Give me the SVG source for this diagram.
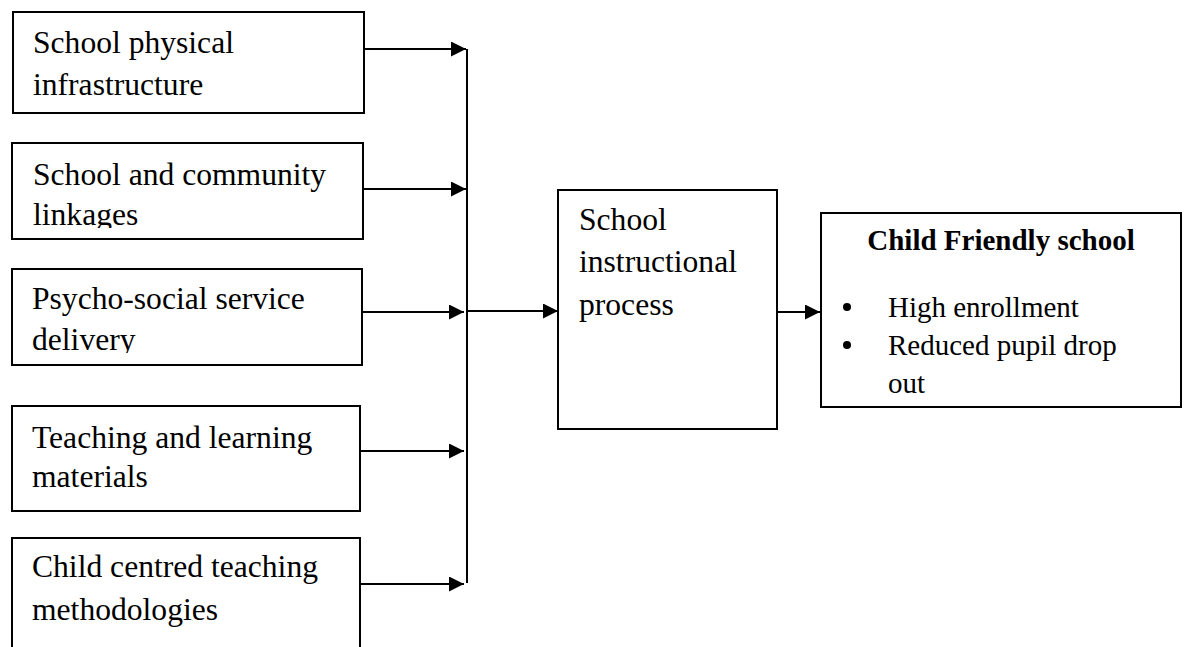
<svg xmlns="http://www.w3.org/2000/svg" width="1188" height="647" viewBox="0 0 1188 647">
<style>
.box{fill:#fff;stroke:#000;stroke-width:2}
.t{font-family:"Liberation Serif","Times New Roman",serif;font-size:31.6px;fill:#000}
.r{font-family:"Liberation Serif","Times New Roman",serif;font-size:29px;fill:#000}
.b{font-weight:bold}
.c{stroke:#000;stroke-width:2;fill:none}
</style>
<defs>
<marker id="ah" markerUnits="userSpaceOnUse" markerWidth="16" markerHeight="16" refX="15" refY="7.5" orient="auto">
<path d="M0,0 L15,7.5 L0,15 z" fill="#000"/>
</marker>
<clipPath id="clip2"><rect x="12" y="143" width="352" height="85"/></clipPath>
<clipPath id="clip3"><rect x="12" y="269" width="352" height="84"/></clipPath>
</defs>
<rect width="1188" height="647" fill="#fff"/>
<g id="connectors">
<line class="c" x1="362" y1="49" x2="466" y2="49" marker-end="url(#ah)"/>
<line class="c" x1="363" y1="189" x2="466" y2="189" marker-end="url(#ah)"/>
<line class="c" x1="362" y1="312" x2="464" y2="312" marker-end="url(#ah)"/>
<line class="c" x1="360" y1="451" x2="464" y2="451" marker-end="url(#ah)"/>
<line class="c" x1="360" y1="584" x2="464" y2="584" marker-end="url(#ah)"/>
<line class="c" x1="467" y1="49" x2="467" y2="583"/>
<line class="c" x1="467" y1="311" x2="558" y2="311" marker-end="url(#ah)"/>
<line class="c" x1="777" y1="312" x2="820" y2="312" marker-end="url(#ah)"/>
</g>
<g id="n1">
<rect class="box" x="13" y="12" width="351" height="101"/>
<text class="t" x="33" y="53">School physical</text>
<text class="t" x="33" y="95">infrastructure</text>
</g>
<g id="n2">
<rect class="box" x="12" y="143" width="351" height="96"/>
<g clip-path="url(#clip2)">
<text class="t" x="33" y="185">School and community</text>
<text class="t" x="33" y="225">linkages</text>
</g>
</g>
<g id="n3">
<rect class="box" x="12" y="269" width="350" height="96"/>
<g clip-path="url(#clip3)">
<text class="t" x="32" y="309">Psycho-social service</text>
<text class="t" x="32" y="350">delivery</text>
</g>
</g>
<g id="n4">
<rect class="box" x="12" y="406" width="348" height="105"/>
<text class="t" x="32" y="448">Teaching and learning</text>
<text class="t" x="32" y="487">materials</text>
</g>
<g id="n5">
<rect class="box" x="12" y="538" width="348" height="120"/>
<text class="t" x="32" y="577">Child centred teaching</text>
<text class="t" x="32" y="620">methodologies</text>
</g>
<g id="n6">
<rect class="box" x="558" y="190" width="219" height="239"/>
<text class="t" x="579" y="230">School</text>
<text class="t" x="579" y="272">instructional</text>
<text class="t" x="579" y="315">process</text>
</g>
<g id="n7">
<rect class="box" x="821" y="213" width="360" height="194"/>
<text class="r b" x="1001" y="250" text-anchor="middle">Child Friendly school</text>
<circle cx="847" cy="307" r="4"/>
<circle cx="847" cy="345" r="4"/>
<text class="r" x="888" y="317">High enrollment</text>
<text class="r" x="888" y="355">Reduced pupil drop</text>
<text class="r" x="888" y="393">out</text>
</g>
</svg>
